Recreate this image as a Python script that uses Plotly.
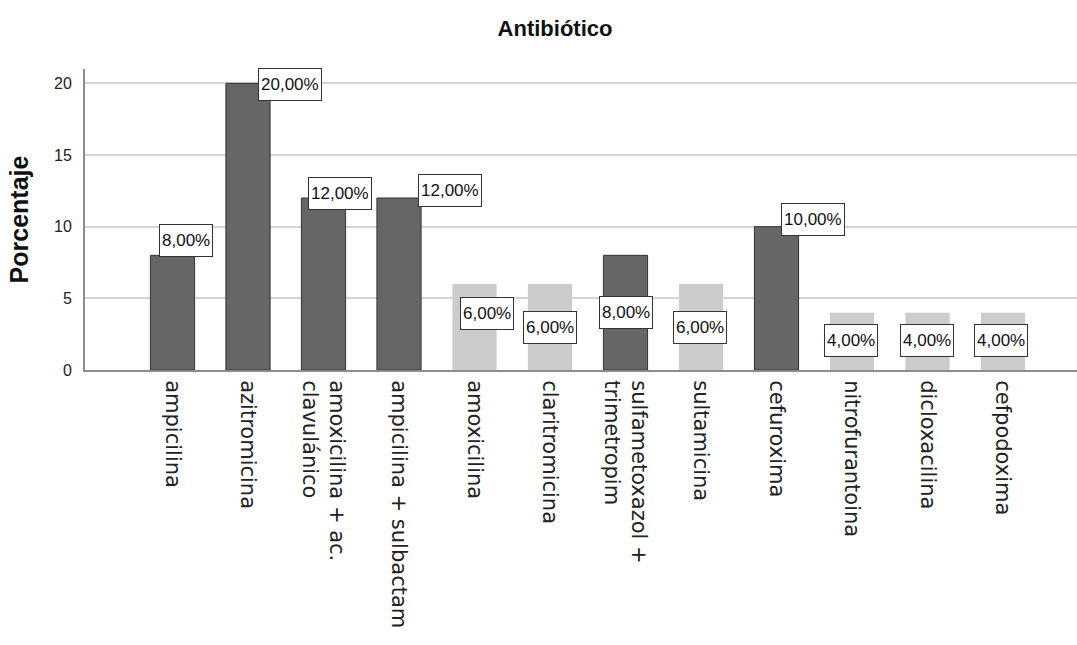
import plotly.graph_objects as go

# ---- data ----
categories = [
    "ampicilina", "azitromicina", "amoxicilina + ac.<br>clavulánico",
    "ampicilina + sulbactam", "amoxicilina", "claritromicina",
    "sulfametoxazol +<br>trimetropim", "sultamicina", "cefuroxima",
    "nitrofurantoina", "dicloxacilina", "cefpodoxima",
]
percentages = [8, 20, 12, 12, 6, 6, 8, 6, 10, 4, 4, 4]
y_ticks = [0, 5, 10, 15, 20]

# ---- style (not data) ----
bar_tone = ["dark", "dark", "dark", "dark", "light", "light",
            "dark", "light", "dark", "light", "light", "light"]
# label box offsets (px) relative to the bar top centre
label_dx = [13, 42, 16, 51, 12, 0, 0, -1, 36, -1, -1, -2]
label_dy = [15, -1, 5, 8, -29, -43, -57, -43, 7, -28, -28, -28]

fill = {"dark": "#666666", "light": "#cccccc"}
edge = {"dark": "#333333", "light": "rgba(0,0,0,0)"}

xs = list(range(len(categories)))

fig = go.Figure()
fig.add_trace(go.Bar(
    x=xs, y=percentages, width=0.585,
    marker=dict(color=[fill[t] for t in bar_tone],
                line=dict(color=[edge[t] for t in bar_tone], width=1)),
    hoverinfo="skip", showlegend=False,
))

labels = [f"{v:.2f}".replace(".", ",") + "%" for v in percentages]
annotations = []
for x, v, t, dx, dy in zip(xs, percentages, labels, label_dx, label_dy):
    annotations.append(dict(
        x=x, y=v, xref="x", yref="y", text=t, showarrow=False,
        xshift=dx, yshift=dy, xanchor="center", yanchor="middle",
        font=dict(family="Liberation Sans, Arial", size=17, color="#111111"),
        bgcolor="#ffffff", bordercolor="#333333", borderwidth=1,
        borderpad=2, height=27,
    ))

fig.update_layout(
    width=1077, height=645,
    margin=dict(l=85, r=0, t=69, b=275),
    paper_bgcolor="#ffffff", plot_bgcolor="#ffffff",
    title=dict(text="<b>Antibiótico</b>", x=555 / 1077, xref="container",
               xanchor="center", y=1 - 28 / 645, yref="container",
               yanchor="middle",
               font=dict(family="Liberation Sans, Arial", size=22, color="#111111")),
    annotations=annotations,
)
fig.update_xaxes(
    range=[-1.159, 11.98], tickvals=xs, ticktext=categories,
    tickangle=90, ticks="", showgrid=False, zeroline=False,
    showline=True, linecolor="#8c8c8c", linewidth=2,
    tickfont=dict(family="DejaVu Sans", size=21, color="#222222"),
    ticklabelstandoff=4,
)
fig.update_yaxes(
    range=[0, 21], tickvals=y_ticks, ticks="",
    showgrid=True, gridcolor="#d4d4d4", gridwidth=2,
    zeroline=False, showline=True, linecolor="#8c8c8c", linewidth=2,
    tickfont=dict(family="Liberation Sans, Arial", size=16, color="#222222"),
    ticklabelstandoff=8,
    title=dict(text="<b>Porcentaje</b>", standoff=18,
               font=dict(family="Liberation Sans, Arial", size=25, color="#111111")),
)

fig.write_html("out.html")
